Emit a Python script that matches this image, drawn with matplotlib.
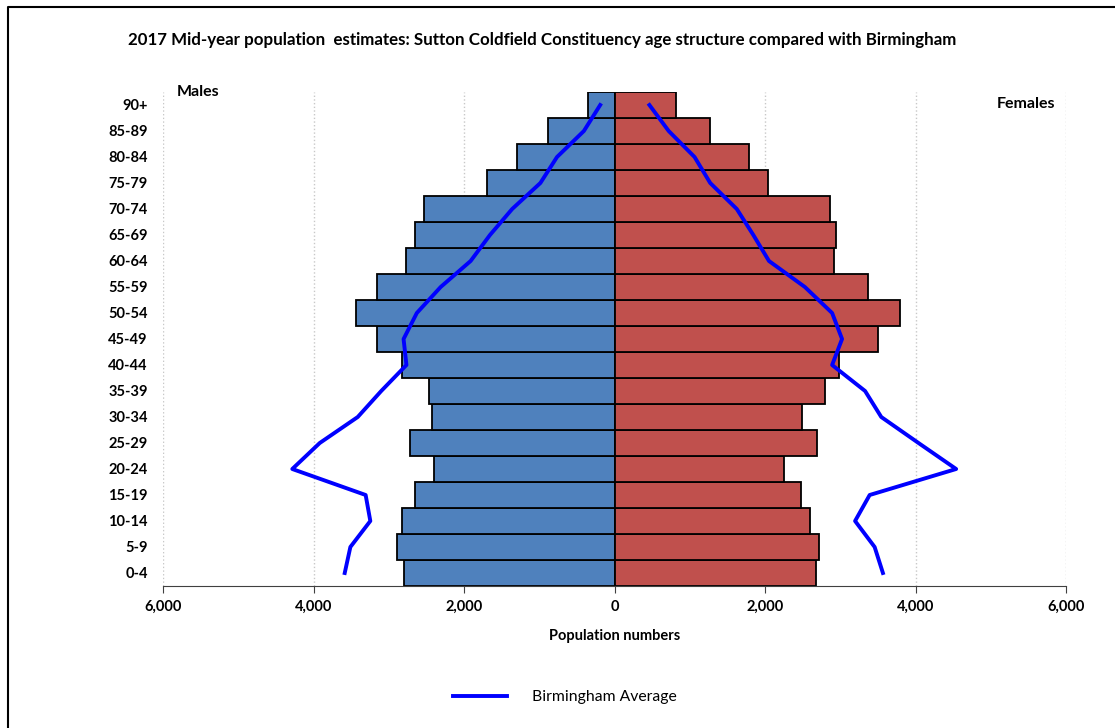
import matplotlib.pyplot as plt
from matplotlib.lines import Line2D
import numpy as np

# Age bands, youngest first
age_groups = ['0-4', '5-9', '10-14', '15-19', '20-24', '25-29', '30-34', '35-39',
              '40-44', '45-49', '50-54', '55-59', '60-64', '65-69', '70-74',
              '75-79', '80-84', '85-89', '90+']

# Sutton Coldfield constituency counts
males = [2800, 2890, 2825, 2655, 2400, 2711, 2430, 2460, 2829, 3160,
         3435, 3160, 2768, 2657, 2538, 1697, 1300, 890, 358]
females = [2675, 2720, 2598, 2482, 2248, 2695, 2495, 2800, 2980, 3497,
           3793, 3373, 2923, 2945, 2858, 2045, 1784, 1268, 822]

# Birmingham average, scaled to the same population
bham_males = [3585, 3510, 3245, 3307, 4282, 3917, 3412, 3100, 2765, 2803,
              2627, 2310, 1912, 1655, 1360, 985, 764, 407, 190]
bham_females = [3567, 3457, 3197, 3391, 4540, 4040, 3545, 3330, 2892, 3024,
                2892, 2530, 2053, 1845, 1625, 1272, 1064, 720, 464]

font = 'Lato'
plt.rcParams['font.family'] = [font, 'DejaVu Sans']

fig = plt.figure(figsize=(11.15, 7.28), dpi=100)
ax = fig.add_axes([163 / 1115, 1 - 586 / 728, (1066 - 163) / 1115, (586 - 92) / 728])

y = np.arange(len(age_groups))
ax.barh(y, [-m for m in males], height=1.0, color='#4f81bd', edgecolor='black', linewidth=1.3, zorder=2)
ax.barh(y, females, height=1.0, color='#c0504d', edgecolor='black', linewidth=1.3, zorder=2)

ax.plot([-m for m in bham_males], y, color='#0000ff', linewidth=2.8, zorder=3,
        label='Birmingham Average')
ax.plot(bham_females, y, color='#0000ff', linewidth=2.8, zorder=3)

ax.set_xlim(-6000, 6000)
ax.set_ylim(-0.5, len(age_groups) - 0.5)

xt = [-6000, -4000, -2000, 0, 2000, 4000, 6000]
ax.set_xticks(xt)
ax.set_xticklabels([f'{abs(v):,}' for v in xt], fontsize=10.5, fontweight='bold')
ax.set_yticks(y)
ax.set_yticklabels(age_groups, fontsize=10.5, fontweight='bold')
ax.tick_params(axis='y', length=0, pad=11)
ax.tick_params(axis='x', length=5, color='#404040', pad=5)

ax.grid(axis='x', color='#c8c8c8', linestyle=':', linewidth=1, zorder=0)
ax.axvline(0, color='#606060', linewidth=1, zorder=1)
for s in ['top', 'right', 'left']:
    ax.spines[s].set_visible(False)
ax.spines['bottom'].set_color('#404040')

ax.set_xlabel('Population numbers', fontsize=10.5, fontweight='bold', labelpad=11)

ax.text(0.015, 1.0, 'Males', transform=ax.transAxes, fontsize=11.5, fontweight='bold',
        ha='left', va='center')
ax.text(0.9885, 0.975, 'Females', transform=ax.transAxes, fontsize=11.5, fontweight='bold',
        ha='right', va='center')

fig.text(542 / 1115, 1 - 40 / 728,
         '2017 Mid-year population  estimates: Sutton Coldfield Constituency age structure compared with Birmingham',
         fontsize=12.2, fontweight='bold', ha='center', va='center')

fig.legend(loc='center', bbox_to_anchor=(565 / 1115, 1 - 697 / 728), frameon=False,
           fontsize=11.3, handlelength=3.4, handletextpad=1.6)

# outer frame like the original chart box
fig.add_artist(Line2D([8 / 1115, 8 / 1115, 1.0], [0, 1 - 7 / 728, 1 - 7 / 728],
                      transform=fig.transFigure, color='black', linewidth=1.5))

plt.savefig('out.png', dpi=100)
